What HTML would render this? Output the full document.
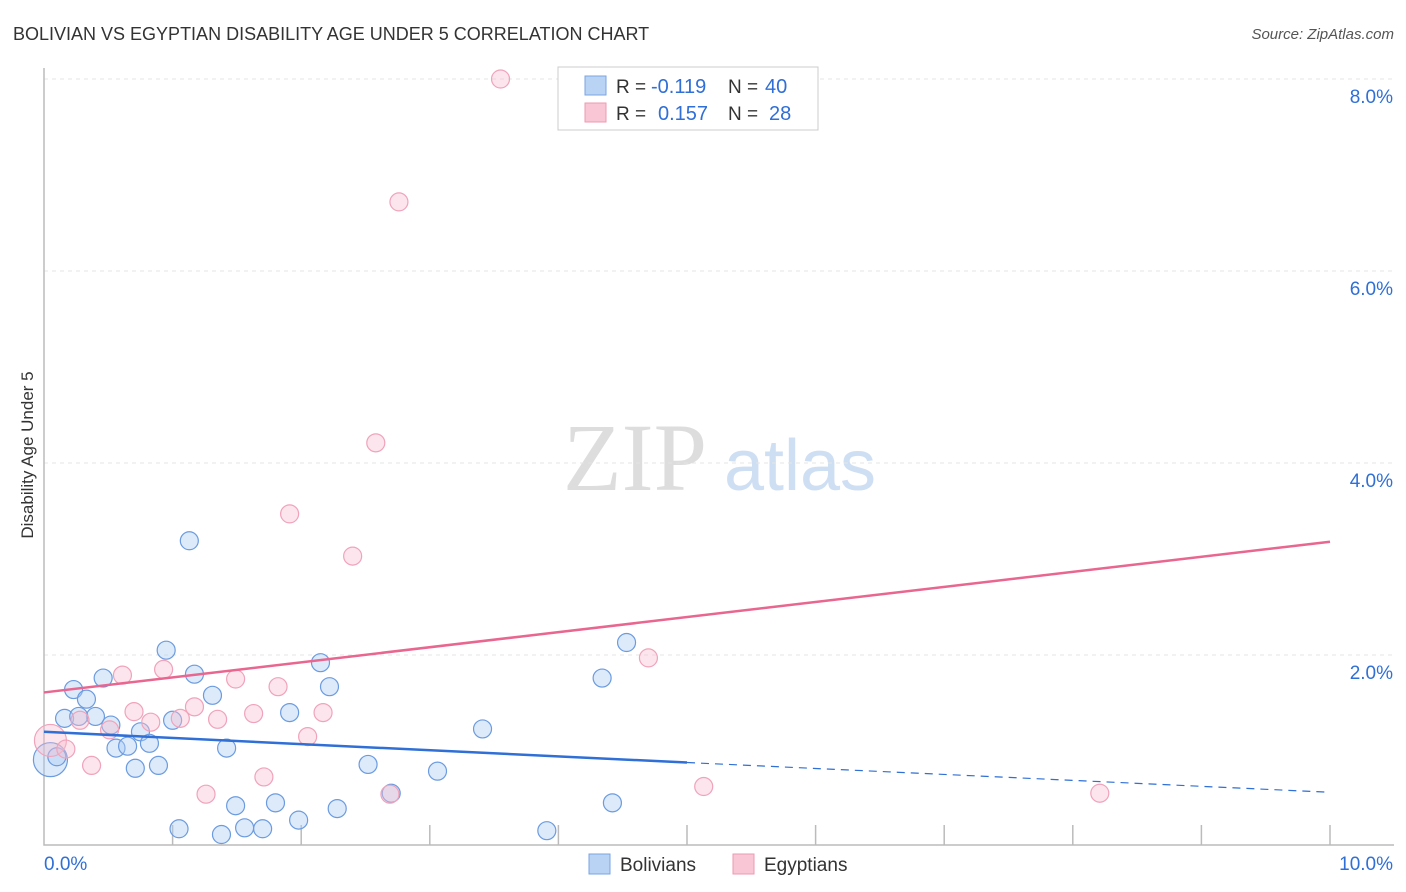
<!DOCTYPE html>
<html><head><meta charset="utf-8"><style>
body{margin:0;background:#fff;font-family:"Liberation Sans",sans-serif;}
svg{display:block}
</style></head><body>
<svg id="chart" width="1406" height="892">
<text x="13" y="40" font-size="18" fill="#333">BOLIVIAN VS EGYPTIAN DISABILITY AGE UNDER 5 CORRELATION CHART</text>
<text x="1394" y="39" font-size="15" fill="#555" font-style="italic" text-anchor="end">Source: ZipAtlas.com</text>
<text x="33" y="455" font-size="17" fill="#333" text-anchor="middle" transform="rotate(-90 33 455)">Disability Age Under 5</text>
<g><text x="635" y="490" font-size="96" fill="#ddd" font-family="Liberation Serif,serif" text-anchor="middle">ZIP</text><text x="800" y="490" font-size="72" fill="#cfdff3" text-anchor="middle">atlas</text></g>
<g id="grid"></g><g id="axes"></g><g id="pts"></g><g id="lines"></g>
<g>
<rect x="558" y="67" width="260" height="63" fill="#fff" stroke="#ccc"/>
<rect x="585" y="76" width="21" height="19" fill="#b9d3f5" stroke="#7aa6e0"/>
<rect x="585" y="103" width="21" height="19" fill="#f9c6d5" stroke="#ec9ab3"/>
<text x="616" y="93" font-size="19" fill="#333">R =</text>
<text x="651" y="93" font-size="20" fill="#2f6fd6">-0.119</text>
<text x="728" y="93" font-size="19" fill="#333">N =</text>
<text x="765" y="93" font-size="20" fill="#2f6fd6">40</text>
<text x="616" y="120" font-size="19" fill="#333">R =</text>
<text x="658" y="120" font-size="20" fill="#2f6fd6">0.157</text>
<text x="728" y="120" font-size="19" fill="#333">N =</text>
<text x="769" y="120" font-size="20" fill="#2f6fd6">28</text>
</g>
<g>
<rect x="589" y="854" width="21" height="20" fill="#b9d3f5" stroke="#7aa6e0"/>
<text x="620" y="871" font-size="19" fill="#333">Bolivians</text>
<rect x="733" y="854" width="21" height="20" fill="#f9c6d5" stroke="#ec9ab3"/>
<text x="764" y="871" font-size="19" fill="#333">Egyptians</text>
</g>
</svg>
<script>
const yTicks=[2,4,6,8];
const yTickLabels=["2.0%","4.0%","6.0%","8.0%"];
const xTickLabels=["0.0%","10.0%"];
const bolX=[0.05,0.10,0.16,0.23,0.33,0.40,0.27,0.46,0.52,0.56,0.65,0.71,0.75,0.82,0.89,0.95,1.00,1.13,1.17,1.31,1.42,1.05,1.38,1.49,1.56,1.70,1.80,1.91,1.98,2.15,2.22,2.28,2.52,2.70,3.06,3.41,3.91,4.34,4.42,4.53];
const bolY=[0.91,0.94,1.34,1.64,1.54,1.36,1.36,1.76,1.27,1.03,1.05,0.82,1.20,1.08,0.85,2.05,1.32,3.19,1.80,1.58,1.03,0.19,0.13,0.43,0.20,0.19,0.46,1.40,0.28,1.92,1.67,0.40,0.86,0.56,0.79,1.23,0.17,1.76,0.46,2.13];
const egyX=[0.05,0.17,0.28,0.37,0.51,0.61,0.70,0.83,0.93,1.06,1.17,1.26,1.35,1.49,1.63,1.71,1.82,1.91,2.05,2.17,2.40,2.58,2.69,2.76,3.55,4.70,5.13,8.21];
const egyY=[1.11,1.02,1.32,0.85,1.22,1.79,1.41,1.30,1.85,1.34,1.46,0.55,1.33,1.75,1.39,0.73,1.67,3.47,1.15,1.40,3.03,4.21,0.55,6.72,8.00,1.97,0.63,0.56];
const bolTrend=[1.20,0.88,0.57];
const egyTrend=[1.61,3.18];
const NS="http://www.w3.org/2000/svg";
const X=v=>44+v*128.6, Y=v=>847-v*96;
function mk(tag,attrs,parent){const e=document.createElementNS(NS,tag);for(const k in attrs)e.setAttribute(k,attrs[k]);document.getElementById(parent).appendChild(e);return e;}
yTicks.forEach((t,i)=>{
 const g=mk('line',{x1:44,x2:1394,y1:Y(t),y2:Y(t),stroke:'#e4e4e4','stroke-dasharray':'4,4'},'grid');
 
 
 const l=mk('text',{x:1393,y:Y(t)+24,'font-size':19,fill:'#2f6fd6','text-anchor':'end'},'axes');l.textContent=yTickLabels[i];
 
 
});
const ax=mk('path',{d:'M44 68V845H1394',fill:'none',stroke:'#bbb','stroke-width':1.5},'axes');


for(let i=1;i<=10;i++){const t=mk('line',{x1:X(i),x2:X(i),y1:825,y2:845,stroke:'#bbb','stroke-width':1.5},'axes');
 
 }
[[0,44,'start'],[10,1393,'end']].forEach((a,i)=>{const t=mk('text',{x:a[1],y:870,'font-size':19,fill:'#2f6fd6','text-anchor':a[2]},'axes');t.textContent=xTickLabels[i];
 
 });
bolX.forEach((x,i)=>{const c=mk('circle',{cx:X(x),cy:Y(bolY[i]),r:i==0?17:9,fill:'rgba(170,202,242,0.4)',stroke:'#6b9be0','stroke-width':1.2},'pts');
 
 });
egyX.forEach((x,i)=>{const c=mk('circle',{cx:X(x),cy:Y(egyY[i]),r:i==0?16:9,fill:'rgba(248,190,208,0.4)',stroke:'#f0a3bb','stroke-width':1.2},'pts');
 
 });
const pl=mk('line',{x1:X(0),y1:Y(egyTrend[0]),x2:X(10),y2:Y(egyTrend[1]),stroke:'#e8668f','stroke-width':2.5},'lines');


const bl=mk('line',{x1:X(0),y1:Y(bolTrend[0]),x2:X(5),y2:Y(bolTrend[1]),stroke:'#2f6fd6','stroke-width':2.5},'lines');


const bd=mk('line',{x1:X(5),y1:Y(bolTrend[1]),x2:X(10),y2:Y(bolTrend[2]),stroke:'#2f6fd6','stroke-width':1.2,'stroke-dasharray':'8,6'},'lines');


</script>
</body></html>
